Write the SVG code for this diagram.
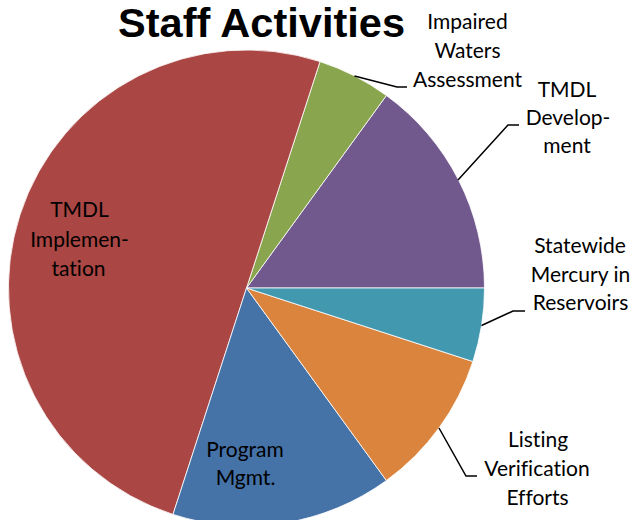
<svg xmlns="http://www.w3.org/2000/svg" width="636" height="520" viewBox="0 0 636 520">
<style>
.slice{stroke:#ffffff;stroke-width:0.8;stroke-linejoin:round}
.lbl{font-family:Lato,"Open Sans","Liberation Sans",sans-serif;font-size:21px;fill:#000;text-anchor:middle;font-variant-ligatures:none;font-feature-settings:"liga" 0}
.title{font-family:"Liberation Sans",Arial,sans-serif;font-size:40px;font-weight:bold;fill:#000;text-anchor:middle;font-variant-ligatures:none}
.lead{fill:none;stroke:#000;stroke-width:1.5}
</style>
<rect width="636" height="520" fill="#ffffff"/>
<g id="slice-tmdl-development">
<path class="slice" fill="#71598E" d="M246.5,288 L484.5,288 A238,238 0 0 0 386.4,95.5 Z"/>
</g>
<g id="slice-impaired-waters">
<path class="slice" fill="#89A54E" d="M246.5,288 L386.4,95.5 A238,238 0 0 0 320,61.6 Z"/>
</g>
<g id="slice-tmdl-implementation">
<path class="slice" fill="#AA4643" d="M246.5,288 L320,61.6 A238,238 0 0 0 20.1,214.5 A238,238 0 0 0 173,514.4 Z"/>
</g>
<g id="slice-program-mgmt">
<path class="slice" fill="#4572A7" d="M246.5,288 L173,514.4 A238,238 0 0 0 386.4,480.5 Z"/>
</g>
<g id="slice-listing-verification">
<path class="slice" fill="#DB843D" d="M246.5,288 L386.4,480.5 A238,238 0 0 0 472.9,361.5 Z"/>
</g>
<g id="slice-statewide-mercury">
<path class="slice" fill="#4198AF" d="M246.5,288 L472.9,361.5 A238,238 0 0 0 484.5,288 Z"/>
</g>
<g id="connectors">
<polyline class="lead" points="354.5,76 397,87 407,87"/>
<polyline class="lead" points="458,180 508,125 519,125"/>
<polyline class="lead" points="481.5,325.5 513,311 525,311"/>
<polyline class="lead" points="439,428 466,476 477,476"/>
</g>
<g id="title">
<text class="title" x="261.5" y="37" textLength="287" lengthAdjust="spacingAndGlyphs">Staff Activities</text>
</g>
<g id="label-impaired-waters">
<text class="lbl" x="467.5" y="29">Impaired</text>
<text class="lbl" x="467.5" y="58">Waters</text>
<text class="lbl" x="467.5" y="87">Assessment</text>
</g>
<g id="label-tmdl-development">
<text class="lbl" x="567" y="97">TMDL</text>
<text class="lbl" x="568" y="125">Develop-</text>
<text class="lbl" x="567" y="153">ment</text>
</g>
<g id="label-statewide-mercury">
<text class="lbl" x="580" y="253">Statewide</text>
<text class="lbl" x="580.5" y="282">Mercury in</text>
<text class="lbl" x="580.5" y="310">Reservoirs</text>
</g>
<g id="label-listing-verification">
<text class="lbl" x="538" y="447">Listing</text>
<text class="lbl" x="537" y="476">Verification</text>
<text class="lbl" x="537.5" y="505">Efforts</text>
</g>
<g id="label-tmdl-implementation">
<text class="lbl" x="79.5" y="217">TMDL</text>
<text class="lbl" x="79.5" y="247">Implemen-</text>
<text class="lbl" x="78.5" y="276">tation</text>
</g>
<g id="label-program-mgmt">
<text class="lbl" x="245" y="457">Program</text>
<text class="lbl" x="245.5" y="485">Mgmt.</text>
</g>
</svg>
